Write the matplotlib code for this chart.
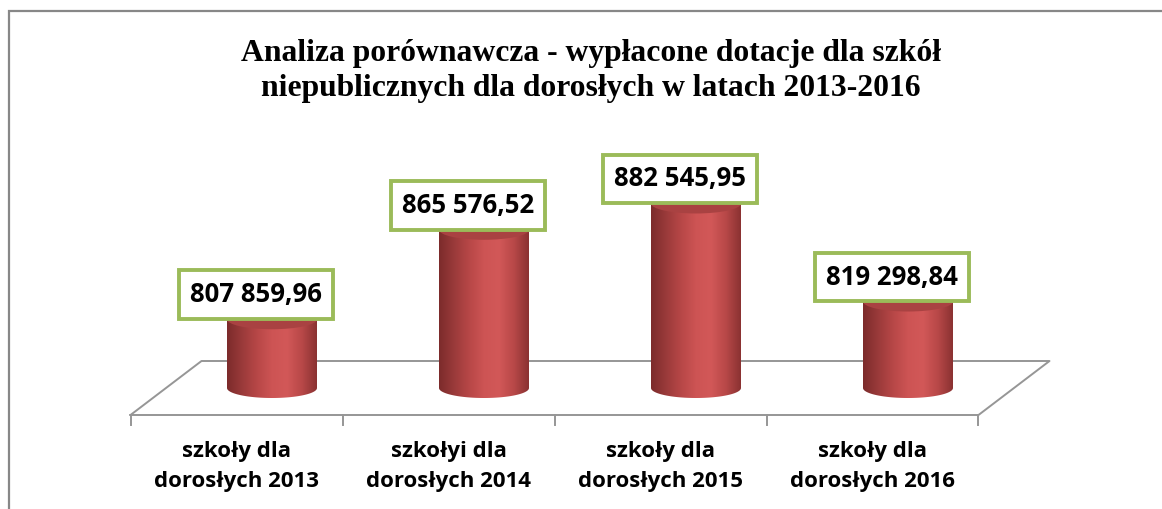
import numpy as np
import matplotlib.pyplot as plt
from matplotlib.colors import LinearSegmentedColormap
from matplotlib.patches import Ellipse, PathPatch, Rectangle
from matplotlib.path import Path

# data
categories = ["szkoły dla\ndorosłych 2013", "szkołyi dla\ndorosłych 2014",
              "szkoły dla\ndorosłych 2015", "szkoły dla\ndorosłych 2016"]
values = [807859.96, 865576.52, 882545.95, 819298.84]
value_labels = ["807 859,96", "865 576,52", "882 545,95", "819 298,84"]
title = ("Analiza porównawcza - wypłacone dotacje dla szkół\n"
         "niepublicznych dla dorosłych w latach 2013-2016")

y_floor = 763500
y_top = 900000

W, H = 1162, 509
fig = plt.figure(figsize=(W / 100, H / 100), dpi=100)

# axes = mid-depth plane of the 3d box (pixels)
ax_left, ax_right, ax_base = 166, 1014, 388
px_per_unit = 0.00155
below = 30  # extra pixels under the floor so the cylinder bottoms are not clipped
xpp = 4 / (ax_right - ax_left)      # data x per pixel
ypp = 1 / px_per_unit               # data y per pixel
y_low = y_floor - below * ypp
ax_h = (y_top - y_low) * px_per_unit
ax = fig.add_axes([ax_left / W, (H - ax_base - below) / H, (ax_right - ax_left) / W, ax_h / H])
ax.axis("off")

# floor (parallelogram, depth offset in pixels)
ddx, ddy = 35.5 * xpp, 27 * ypp
grey = "#969696"
x0, x1 = -0.5, len(values) - 0.5
floor_x = [x0 - ddx, x1 - ddx, x1 + ddx, x0 + ddx, x0 - ddx]
floor_y = [y_floor - ddy, y_floor - ddy, y_floor + ddy, y_floor + ddy, y_floor - ddy]
ax.plot(floor_x, floor_y, color=grey, lw=1.4, clip_on=False, zorder=1)
for xb in np.arange(x0, x1 + 0.01, 1.0):
    ax.plot([xb - ddx, xb - ddx], [y_floor - ddy, y_floor - ddy - 10 * ypp],
            color=grey, lw=1.4, clip_on=False, zorder=1)

# cylinders
body_cmap = LinearSegmentedColormap.from_list(
    "cyl", ["#7c2b2b", "#9a3a3a", "#b74747", "#cd5454", "#d25858", "#b84848", "#8a3232"])
w = 90 * xpp
b = 10 * ypp
xs = np.arange(len(values))
ax.bar(xs, np.array(values) - y_floor, bottom=y_floor, width=w, color="#c24d4d", zorder=2)
t = np.linspace(np.pi, 2 * np.pi, 60)
grad = np.linspace(0, 1, 256)[None, :]
for x, v in zip(xs, values):
    px = np.concatenate([[x - w / 2], x + w / 2 * np.cos(t), [x + w / 2, x - w / 2]])
    py = np.concatenate([[v], y_floor + b * np.sin(t), [v, v]])
    body = PathPatch(Path(np.column_stack([px, py])), fc="none", ec="none")
    ax.add_patch(body)
    im = ax.imshow(grad, cmap=body_cmap, aspect="auto", zorder=3,
                   extent=(x - w / 2, x + w / 2, y_floor - b, v))
    im.set_clip_path(body)
    ax.add_patch(Ellipse((x, v), w, 2 * b, fc="#a94242", ec="none", zorder=4))

ax.set_xlim(x0, x1)
ax.set_ylim(y_low, y_top)

# value labels
for x, v, lbl in zip(xs, values, value_labels):
    ax.annotate(lbl, xy=(x, v), xytext=(-16, 11), textcoords="offset pixels",
                ha="center", va="bottom", fontsize=18.5, fontweight="bold",
                family="Open Sans", zorder=6,
                bbox=dict(boxstyle="square,pad=0.42", fc="white", ec="#9bbb59", lw=2.8))

# category labels under front edge
for x, lbl in zip(xs, categories):
    ax.text(x - ddx, y_floor - ddy - 26 * ypp, lbl, ha="center", va="top",
            fontsize=16, fontweight="bold", family="Open Sans", linespacing=1.55,
            clip_on=False)

fig.text(591 / W, 1 - 39 / H, title, ha="center", va="top", fontsize=22.8,
         fontweight="bold", family="Liberation Serif", linespacing=1.28)

# chart border (cut by the right and bottom image edge)
fig.add_artist(Rectangle((9 / W, -0.2), 1.5, 1.2 - 11 / H, transform=fig.transFigure,
                         fill=False, ec="#878787", lw=1.6))

fig.savefig("out.png", dpi=100)
